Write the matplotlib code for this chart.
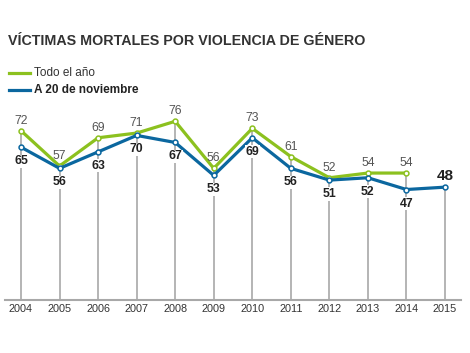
import matplotlib.pyplot as plt

years = [2004, 2005, 2006, 2007, 2008, 2009, 2010, 2011, 2012, 2013, 2014, 2015]
todo_anio = [72, 57, 69, 71, 76, 56, 73, 61, 52, 54, 54]
a_20_nov = [65, 56, 63, 70, 67, 53, 69, 56, 51, 52, 47, 48]

GREEN = "#8cc11f"
BLUE = "#0b679f"
GRID = "#a8a8a8"

fig = plt.figure(figsize=(4.70, 3.53), dpi=100)
ax = fig.add_axes([5 / 470, 0.150, 456 / 470, 0.533])

# vertical guide lines from the baseline up to the highest point of each year
for i, yr in enumerate(years):
    top = a_20_nov[i]
    if i < len(todo_anio):
        top = max(top, todo_anio[i])
    ax.plot([yr, yr], [0, top], color=GRID, lw=1.2, zorder=1)

ax.plot(years[:len(todo_anio)], todo_anio, color=GREEN, lw=2.3, zorder=3,
        marker="o", ms=3.5, mfc="white", mec=GREEN, mew=1.1)
ax.plot(years, a_20_nov, color=BLUE, lw=2.3, zorder=3,
        marker="o", ms=3.5, mfc="white", mec=BLUE, mew=1.1)

box = dict(boxstyle="square,pad=0.05", fc="white", ec="none")
for yr, v in zip(years, todo_anio):
    ax.annotate(str(v), (yr, v), xytext=(0, 10), textcoords="offset pixels",
                ha="center", va="center", fontsize=8.8, color="#555555",
                family="Liberation Sans", zorder=4)
for yr, v in zip(years[:-1], a_20_nov[:-1]):
    ax.annotate(str(v), (yr, v), xytext=(0, -14), textcoords="offset pixels",
                ha="center", va="center", fontsize=8.8, color="#222222",
                fontweight="bold", family="Liberation Sans", bbox=box, zorder=4)
ax.annotate(str(a_20_nov[-1]), (years[-1], a_20_nov[-1]), xytext=(0, 11),
            textcoords="offset pixels", ha="center", va="center", fontsize=11,
            color="#222222", fontweight="bold", family="Liberation Sans", zorder=4)

ax.set_xlim(2004 - 16 / 38.55, 2015 + 16 / 38.55)
ax.set_ylim(0, 80)
ax.set_xticks(years)
ax.set_xticklabels([str(y) for y in years], family="Liberation Sans",
                   fontsize=7.8, color="#333333")
ax.tick_params(axis="x", length=0, pad=3)
ax.set_yticks([])
for s in ["top", "right", "left"]:
    ax.spines[s].set_visible(False)
ax.spines["bottom"].set_color(GRID)
ax.spines["bottom"].set_linewidth(1.5)

fig.text(8 / 470, 1 - 41 / 353, "VÍCTIMAS MORTALES POR VIOLENCIA DE GÉNERO",
         fontsize=10.3, fontweight="bold", color="#333333",
         family="Liberation Sans", va="center", ha="left")

# legend
fig.lines.append(plt.Line2D([9 / 470, 30 / 470], [1 - 73 / 353] * 2,
                            color=GREEN, lw=2.3, transform=fig.transFigure))
fig.lines.append(plt.Line2D([9 / 470, 30 / 470], [1 - 90 / 353] * 2,
                            color=BLUE, lw=2.3, transform=fig.transFigure))
fig.text(34 / 470, 1 - 73 / 353, "Todo el año", fontsize=8.5, color="#333333",
         family="Liberation Sans", va="center", ha="left")
fig.text(34 / 470, 1 - 90 / 353, "A 20 de noviembre", fontsize=8.5,
         fontweight="bold", color="#222222", family="Liberation Sans",
         va="center", ha="left")

fig.savefig("out.png", dpi=100)
